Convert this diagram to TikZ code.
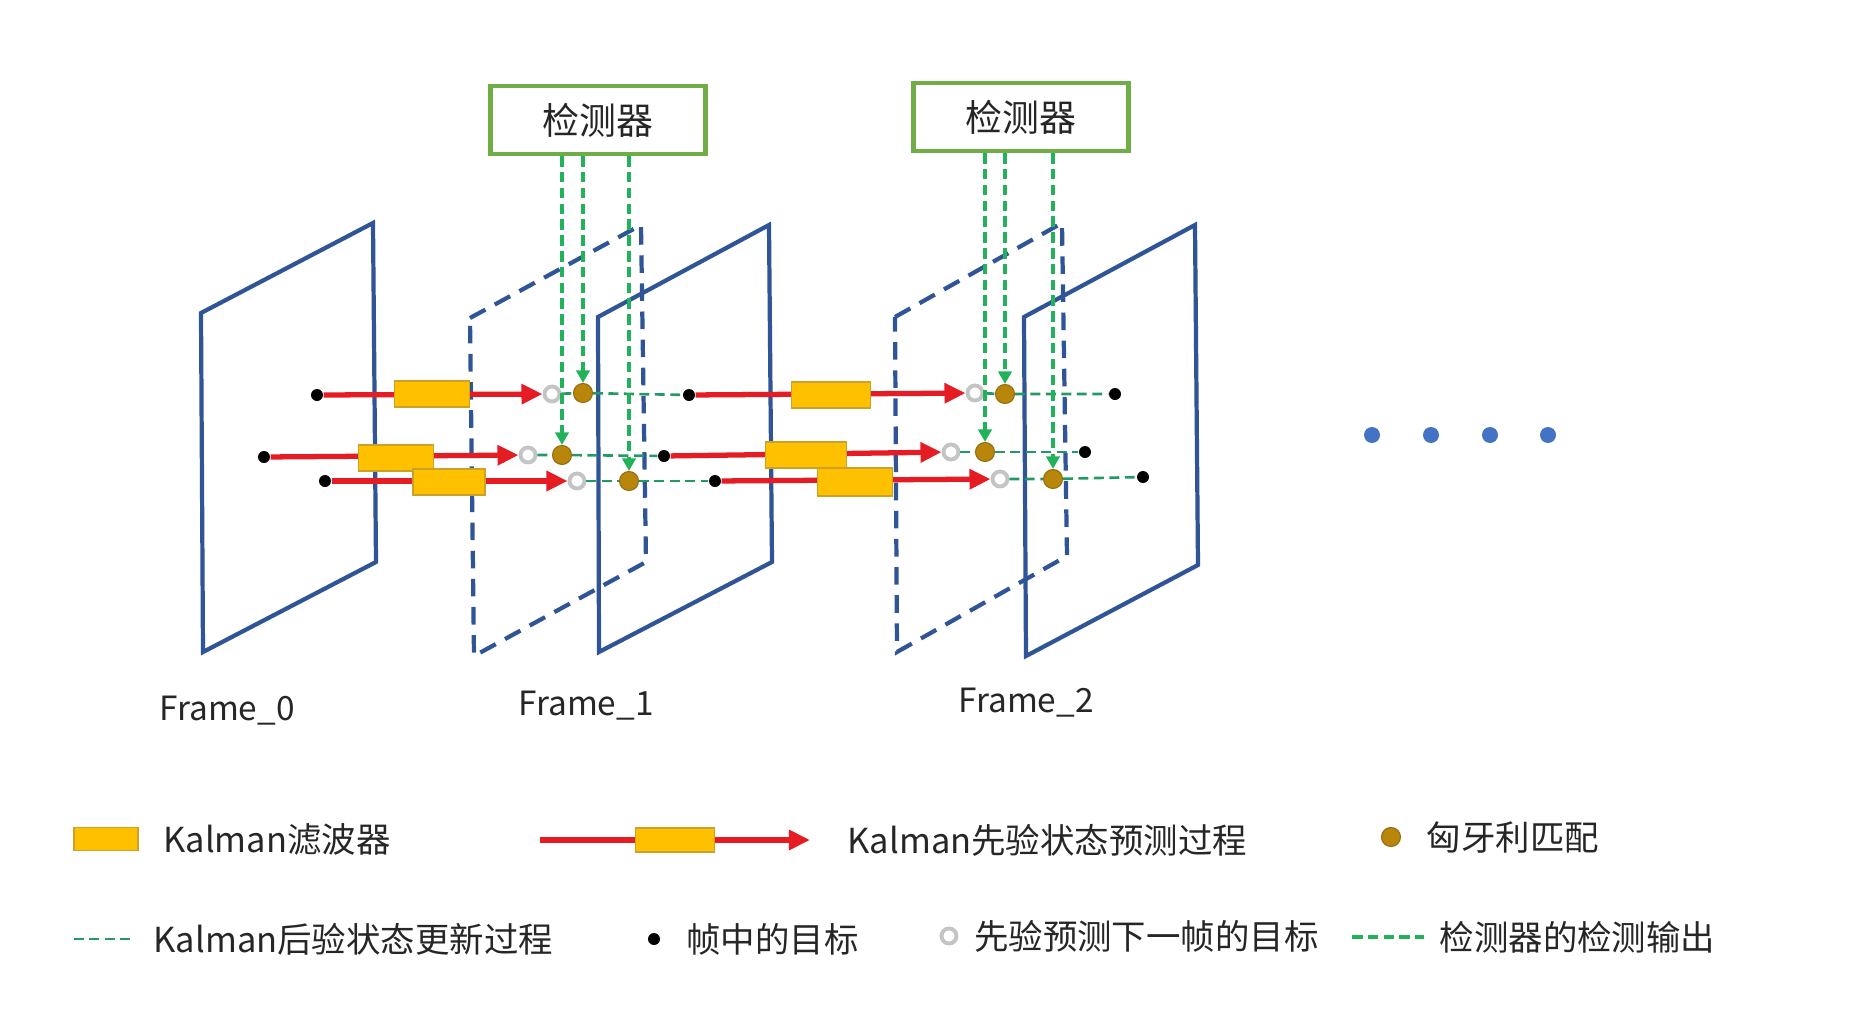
\documentclass[tikz,border=0pt]{standalone}
\usepackage{fontspec}
\setmainfont{Noto Sans CJK SC}
\usepackage{tikz}
\usetikzlibrary{positioning, arrows.meta}
\definecolor{fBlue}{HTML}{2F5597}
\definecolor{kfRed}{HTML}{E51C23}
\definecolor{kfYellow}{HTML}{FFC000}
\definecolor{kfEdge}{HTML}{C9A227}
\definecolor{hgGold}{HTML}{B8860B}
\definecolor{upGreen}{HTML}{239A63}
\definecolor{detGreen}{HTML}{22B35A}
\definecolor{detEdge}{HTML}{70AD47}
\definecolor{dotBlue}{HTML}{4472C4}
\definecolor{predGray}{HTML}{C4C4C4}
\definecolor{nInk}{HTML}{262626}
\tikzset{
  frameline/.style={draw=fBlue, line width=1.2pt},
  predframe/.style={frameline, dash pattern=on 5pt off 3pt},
  detbox/.style={draw=detEdge, line width=1.2pt, fill=white, minimum width=21.5mm,
    minimum height=6.8mm, font=\fontsize{10.5}{12}\selectfont, text=nInk},
  kfbox/.style={draw=kfEdge, line width=0.4pt, fill=kfYellow, minimum width=7.5mm,
    minimum height=2.6mm, inner sep=0pt},
  tgtdot/.style={circle, fill=black, minimum size=1.2mm, inner sep=0pt},
  preddot/.style={circle, draw=predGray, line width=1.1pt, fill=white, minimum size=1.5mm, inner sep=0pt},
  matchdot/.style={circle, fill=hgGold, draw=hgGold!80!black, line width=0.3pt, minimum size=1.9mm, inner sep=0pt},
  predarrow/.style={draw=kfRed, line width=1.5pt, -{Triangle[length=6pt,width=5.5pt]}},
  updline/.style={draw=upGreen, line width=0.75pt, dash pattern=on 2.8pt off 1.6pt},
  detline/.style={draw=detGreen, line width=1pt, dash pattern=on 3pt off 1.5pt},
  detarrow/.style={detline, -{Triangle[length=3.6pt,width=3.8pt]}},
  moredot/.style={circle, fill=dotBlue, minimum size=1.6mm, inner sep=0pt},
  lbl/.style={font=\fontsize{9.8}{12}\selectfont, text=nInk, inner sep=0pt},
}

\begin{document}
\begin{tikzpicture}[x=0.1mm, y=-0.1mm]
  \useasboundingbox (0,0) rectangle (1876,1035);

  % frames
  \draw[frameline] (201,313) -- (373,223) -- (376,562) -- (203,652) -- cycle;
  \draw[frameline] (598,317) -- (769,225) -- (772,562) -- (599,652) -- cycle;
  \draw[frameline] (1024,317) -- (1195,225) -- (1198,565) -- (1026,656) -- cycle;
  \draw[predframe] (470,318) -- (641,225) -- (646,562) -- (474,656) -- cycle;
  \draw[predframe] (895,317) -- (1062,223) -- (1067,556) -- (897,652) -- cycle;

  \node[lbl, font=\fontsize{9.5}{12}\selectfont] (f0) at (227,711) {Frame\_0};
  \node[lbl, font=\fontsize{9.5}{12}\selectfont] (f1) at (586,706) {Frame\_1};
  \node[lbl, font=\fontsize{9.5}{12}\selectfont] (f2) at (1026,703) {Frame\_2};

  \node[detbox] (det1) at (598,120) {检测器};
  \node[detbox] (det2) at (1021,117) {检测器};

  % targets, predictions, matches
  \node[tgtdot] (tA0) at (317,395) {};
  \node[preddot] (pA1) at (552,394) {};
  \node[matchdot] (mA1) at (583,393) {};
  \node[tgtdot] (tA1) at (689,395) {};
  \node[preddot] (pA2) at (975,393) {};
  \node[matchdot] (mA2) at (1005,394) {};
  \node[tgtdot] (tA2) at (1115,394) {};

  \node[tgtdot] (tB0) at (264,457) {};
  \node[preddot] (pB1) at (528,455) {};
  \node[matchdot] (mB1) at (562,455) {};
  \node[tgtdot] (tB1) at (664,456) {};
  \node[preddot] (pB2) at (951,452) {};
  \node[matchdot] (mB2) at (985,452) {};
  \node[tgtdot] (tB2) at (1085,452) {};

  \node[tgtdot] (tC0) at (325,481) {};
  \node[preddot] (pC1) at (577,481) {};
  \node[matchdot] (mC1) at (629,481) {};
  \node[tgtdot] (tC1) at (715,481) {};
  \node[preddot] (pC2) at (1000,479) {};
  \node[matchdot] (mC2) at (1053,479) {};
  \node[tgtdot] (tC2) at (1143,477) {};

  \draw[predarrow] (tA0) -- (pA1);
  \draw[predarrow] (tA1) -- (pA2);
  \draw[predarrow] (tB0) -- (pB1);
  \draw[predarrow] (tB1) -- (pB2);
  \draw[predarrow] (tC0) -- (pC1);
  \draw[predarrow] (tC1) -- (pC2);

  \node[kfbox] (kA1) at (432,394) {};
  \node[kfbox, minimum width=7.9mm] (kA2) at (831,395) {};
  \node[kfbox] (kB1) at (396,458) {};
  \node[kfbox, minimum width=8.1mm] (kB2) at (806,455) {};
  \node[kfbox, minimum width=7.2mm] (kC1) at (449,482) {};
  \node[kfbox, minimum height=2.8mm] (kC2) at (855,482) {};

  \draw[updline] (pA1) -- (mA1) -- (tA1);
  \draw[updline] (pA2) -- (mA2) -- (tA2);
  \draw[updline] (pB1) -- (mB1) -- (tB1);
  \draw[updline] (pB2) -- (mB2) -- (tB2);
  \draw[updline] (pC1) -- (mC1) -- (tC1);
  \draw[updline] (pC2) -- (mC2) -- (tC2);

  \foreach \m in {mA1, mB1, mC1}
    \draw[detarrow] (det1.south -| \m) -- (\m);
  \foreach \m in {mA2, mB2, mC2}
    \draw[detarrow] (det2.south -| \m) -- (\m);

  \foreach \i/\x in {1/1372, 2/1431, 3/1490, 4/1548}
    \node[moredot] (more\i) at (\x,435) {};

  % legend
  \node[kfbox, minimum width=6.4mm, minimum height=2.3mm] (lgkf) at (106,839) {};
  \node[lbl, right=2.4mm of lgkf] (lgkftxt) {Kalman滤波器};
  \coordinate (lgpa) at (540,840);
  \coordinate (lgpb) at (810,840);
  \draw[predarrow] (lgpa) -- (lgpb);
  \node[kfbox, minimum width=7.9mm, minimum height=2.4mm] (lgpkf) at (675,840) {};
  \node[lbl, right=3.7mm of lgpb] (lgpredtxt) {Kalman先验状态预测过程};
  \node[matchdot] (lgm) at (1391,837) {};
  \node[lbl, right=2.5mm of lgm] (lgmtxt) {匈牙利匹配};

  \coordinate (lgua) at (74,939);
  \coordinate (lgub) at (135,939);
  \draw[updline] (lgua) -- (lgub);
  \node[lbl, right=1.8mm of lgub] (lguptxt) {Kalman后验状态更新过程};
  \node[tgtdot] (lgt) at (654,939) {};
  \node[lbl, right=2.5mm of lgt] (lgttxt) {帧中的目标};
  \node[preddot] (lgp) at (949,936) {};
  \node[lbl, right=1.5mm of lgp] (lgptxt) {先验预测下一帧的目标};
  \coordinate (lgda) at (1352,937);
  \coordinate (lgdb) at (1424,937);
  \draw[detline] (lgda) -- (lgdb);
  \node[lbl, right=1.5mm of lgdb] (lgdtxt) {检测器的检测输出};
\end{tikzpicture}
\end{document}
